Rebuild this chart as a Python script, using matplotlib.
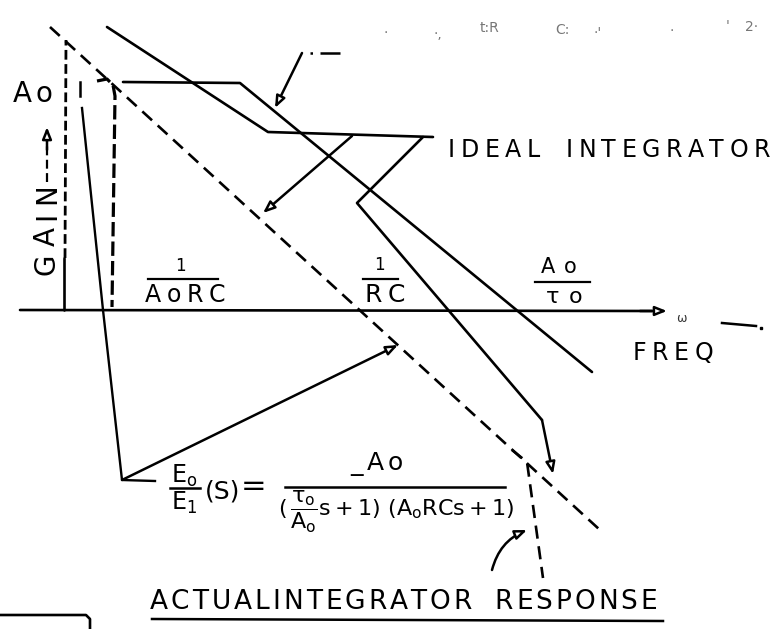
import matplotlib
matplotlib.use("Agg")
import matplotlib.pyplot as plt
from matplotlib.font_manager import FontProperties

plt.rcParams['font.family'] = 'DejaVu Sans'
plt.rcParams['mathtext.fontset'] = 'dejavusans'
plt.rcParams['mathtext.default'] = 'regular'

W, H = 779, 629

# sketch is laid out in pixel units, y grows downward
freq_axis_x = [20, 652]
freq_axis_y = [310, 311]
gain_axis_x = [64, 64]
gain_axis_y = [310, 258]
gain_dash_x = [65, 66]
gain_dash_y = [258, 40]

# ideal integrator, one straight roll-off
ideal_x = [50, 600]
ideal_y = [27, 530]

# actual integrator: flat at Ao, breaks at 1/AoRC and again near Ao/To
actual_lo_x = [97, 107, 113, 115, 112]
actual_lo_y = [81, 79, 85, 96, 307]
actual_hi_x = [512, 527, 543]
actual_hi_y = [450, 462, 578]

# open loop gain of the amplifier
open_loop_x = [123, 240, 592]
open_loop_y = [82, 83, 372]

# other strokes and leaders
upper_x = [107, 268, 433]
upper_y = [27, 132, 137]
side_leader_x = [423, 357, 542]
side_leader_y = [137, 203, 420]
eq_leader_x = [155, 122, 103, 82]
eq_leader_y = [481, 480, 310, 108]
short_dash_x = [80, 80]
short_dash_y = [82, 96]
gain_arrow_x = [47, 47]
gain_arrow_y = [182, 140]
box_x = [0, 86, 90, 90]
box_y = [615, 615, 619, 629]

# arrows: (x0, y0, x1, y1, rad)
arrows = [
    (302, 53, 275, 108, 0),
    (352, 136, 263, 213, 0),
    (542, 420, 553, 474, 0),
    (122, 480, 398, 345, 0),
    (492, 570, 527, 530, -0.25),
    (640, 311, 667, 311, 0),
    (47, 150, 47, 127, 0),
]

fig = plt.figure(figsize=(W / 100, H / 100), dpi=100)
ax = fig.add_axes([0, 0, 1, 1])
ax.set_xlim(0, W)
ax.set_ylim(H, 0)
ax.axis('off')
rend = fig.canvas.get_renderer()

solid = dict(color='black', lw=1.9, solid_capstyle='round', solid_joinstyle='round')

ax.plot(freq_axis_x, freq_axis_y, **solid)
ax.plot(gain_axis_x, gain_axis_y, **solid)
ax.plot(gain_dash_x, gain_dash_y, color='black', lw=2.0, ls=(0, (3.5, 1.6)))
ax.plot(ideal_x, ideal_y, color='black', lw=1.9, ls=(0, (5, 2.9)))
ax.plot(actual_lo_x, actual_lo_y, color='black', lw=2.3, ls=(0, (4.5, 1.6)))
ax.plot(actual_hi_x, actual_hi_y, color='black', lw=1.9, ls=(0, (5, 2.9)))
ax.plot(open_loop_x, open_loop_y, **solid)
ax.plot(upper_x, upper_y, **solid)
ax.plot(side_leader_x, side_leader_y, **solid)
ax.plot(eq_leader_x, eq_leader_y, color='black', lw=1.7)
ax.plot(short_dash_x, short_dash_y, color='black', lw=1.8)
ax.plot(gain_arrow_x, gain_arrow_y, color='black', lw=1.6, ls=(0, (4, 2)))
ax.plot(box_x, box_y, **solid)
ax.plot([310, 340], [53, 53], color='black', lw=1.8, ls=(0, (1, 3, 12, 2)))
ax.plot([722, 756], [323, 326], color='black', lw=1.8)
ax.plot([761], [328], 's', color='black', ms=2)

for x0, y0, x1, y1, rad in arrows:
    ax.annotate('', xy=(x1, y1), xytext=(x0, y0),
                arrowprops=dict(arrowstyle='-|>,head_length=0.7,head_width=0.28',
                                fc='white', ec='black', lw=1.8,
                                shrinkA=0, shrinkB=0,
                                connectionstyle=f'arc3,rad={rad}'))


def spaced(x0, x1, base, s, size, rot=0, xb=None):
    # hand-lettered labels: spread glyphs evenly over the span
    prop = FontProperties(family='DejaVu Sans', size=size)
    ws = []
    for c in s:
        if c == ' ':
            ws.append(size * 0.9)
        else:
            ws.append(rend.get_text_width_height_descent(c, prop, ismath=False)[0])
    gap = (abs(x1 - x0) - sum(ws)) / max(len(s) - 1, 1)
    pos = 0
    for c, w in zip(s, ws):
        if c != ' ':
            if rot == 0:
                ax.text(x0 + pos + w / 2, base, c, fontsize=size,
                        ha='center', va='baseline')
            else:
                ax.text(xb, x0 - pos - w / 2, c, fontsize=size, rotation=90,
                        rotation_mode='anchor', ha='center', va='baseline')
        pos += w + gap


spaced(150, 657, 609, 'ACTUALINTEGRATOR RESPONSE', 19)
ax.plot([152, 663], [619, 621], color='black', lw=1.8)
spaced(448, 770, 157, 'IDEAL INTEGRATOR', 17)
spaced(633, 713, 360, 'FREQ', 17)
spaced(13, 52, 102, 'Ao', 20)
spaced(275, 183, 0, 'GAIN', 20, rot=90, xb=55)

# break-point labels
ax.text(180, 266, '1', fontsize=12, ha='center', va='center')
ax.plot([148, 218], [279, 279], color='black', lw=1.6)
spaced(145, 225, 302, 'AoRC', 17)
ax.text(379, 265, '1', fontsize=12, ha='center', va='center')
ax.plot([363, 398], [279, 279], color='black', lw=1.6)
spaced(365, 405, 302, 'RC', 18)
spaced(541, 577, 273, 'Ao', 15)
ax.plot([535, 590], [282, 282], color='black', lw=1.6)
spaced(546, 582, 303, 'τo', 16)
ax.text(681, 318, 'ω', fontsize=9, ha='center', va='center', color='#333333')

# transfer function
ax.text(184, 476, r'$E_o$', fontsize=17, ha='center', va='center')
ax.plot([170, 200], [488, 488], color='black', lw=1.8)
ax.text(184, 503, r'$E_1$', fontsize=17, ha='center', va='center')
ax.text(223, 492, '(S)', fontsize=18, ha='center', va='center')
ax.text(254, 487, '=', fontsize=22, ha='center', va='center')
ax.plot([285, 505], [487, 487], color='black', lw=1.8)
spaced(350, 403, 470, '_Ao', 18)
ax.text(396, 512, r'$(\,\dfrac{\tau_o}{A_o}s+1)\ (A_oRCs+1)$',
        fontsize=16, ha='center', va='center')

# faint caption at the top, mostly lost
for x, y, t in [(386, 33, '·'), (438, 34, '·,'), (490, 28, 't:R'),
                (562, 30, 'C:'), (598, 33, "·'"), (672, 31, '·'), (728, 26, "'"),
                (752, 27, '2·')]:
    ax.text(x, y, t, fontsize=10, color='#777777', ha='center', va='center')

fig.savefig('out.png', dpi=100)
